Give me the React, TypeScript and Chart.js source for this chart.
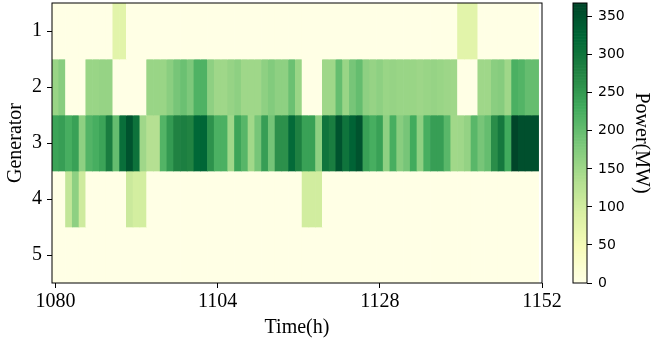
import React, { useEffect, useRef } from "react";
import { Chart, registerables } from "chart.js";
Chart.register(...registerables);

// ---------------- data ----------------
const hours: number[] = Array.from({ length: 72 }, (_, i) => 1080 + i);
const generatorLabels = [1, 2, 3, 4, 5];

const gen1 = [
  0, 0, 0, 0, 0, 0, 0, 0, 0, 78, 78, 0, 0, 0, 0, 0, 0, 0,
  0, 0, 0, 0, 0, 0, 0, 0, 0, 0, 0, 0, 0, 0, 0, 0, 0, 0,
  0, 0, 0, 0, 0, 0, 0, 0, 0, 0, 0, 0, 0, 0, 0, 0, 0, 0,
  0, 0, 0, 0, 0, 0, 78, 78, 78, 0, 0, 0, 0, 0, 0, 0, 0, 0,
];
const gen2 = [
  155, 170, 0, 0, 0, 155, 155, 158, 158, 0, 0, 0, 0, 0, 155, 155, 155, 168,
  185, 195, 180, 218, 218, 165, 150, 150, 158, 165, 150, 150, 150, 165, 175, 165,
  165, 195, 155, 0, 0, 0, 150, 150, 200, 155, 185, 200, 165, 158, 165, 155, 158, 155,
  155, 155, 152, 155, 158, 155, 152, 150, 0, 0, 0, 150, 150, 168, 172, 150, 222, 215, 200, 200,
];
const gen3 = [
  238, 245, 225, 242, 165, 215, 225, 238, 288, 200, 310, 350, 305, 150, 130, 130, 215, 250,
  280, 285, 278, 322, 325, 260, 222, 222, 150, 238, 212, 148, 185, 245, 187, 262,
  262, 318, 282, 242, 242, 165, 302, 288, 350, 302, 328, 350, 242, 225, 242, 165, 225, 170,
  185, 230, 165, 225, 245, 245, 210, 148, 150, 160, 210, 185, 200, 265, 295, 230, 368, 355, 355, 355,
];
const gen4 = [
  0, 0, 116, 165, 104, 0, 0, 0, 0, 0, 0, 108, 98, 98, 0, 0, 0, 0,
  0, 0, 0, 0, 0, 0, 0, 0, 0, 0, 0, 0, 0, 0, 0, 0, 0, 0,
  0, 100, 100, 100, 0, 0, 0, 0, 0, 0, 0, 0, 0, 0, 0, 0, 0, 0,
  0, 0, 0, 0, 0, 0, 0, 0, 0, 0, 0, 0, 0, 0, 0, 0, 0, 0,
];
const gen5 = [
  0, 0, 0, 0, 0, 0, 0, 0, 0, 0, 0, 0, 0, 0, 0, 0, 0, 0,
  0, 0, 0, 0, 0, 0, 0, 0, 0, 0, 0, 0, 0, 0, 0, 0, 0, 0,
  0, 0, 0, 0, 0, 0, 0, 0, 0, 0, 0, 0, 0, 0, 0, 0, 0, 0,
  0, 0, 0, 0, 0, 0, 0, 0, 0, 0, 0, 0, 0, 0, 0, 0, 0, 0,
];

const xTicks = [1080, 1104, 1128, 1152];
const yTicks = [1, 2, 3, 4, 5];
const cbTicks = [0, 50, 100, 150, 200, 250, 300, 350];
const vMax = 368;

// ---------------- styling ----------------
const W = 652;
const H = 343;
const PLOT = { left: 52, right: 542, top: 3, bottom: 283 };
const CBAR = { left: 573, right: 587 };
const SERIF = "'Liberation Serif', 'Times New Roman', serif";
const SANS = "'DejaVu Sans', sans-serif";

const YLGN = [
  [255, 255, 229],
  [247, 252, 185],
  [217, 240, 163],
  [173, 221, 142],
  [120, 198, 121],
  [65, 171, 93],
  [35, 132, 67],
  [0, 104, 55],
  [0, 69, 41],
];

function cmap(v: number): string {
  const t = Math.max(0, Math.min(1, v / vMax)) * (YLGN.length - 1);
  const i = Math.min(Math.floor(t), YLGN.length - 2);
  const f = t - i;
  const a = YLGN[i];
  const b = YLGN[i + 1];
  const c = a.map((x, k) => Math.round(x + (b[k] - x) * f));
  return `rgb(${c[0]},${c[1]},${c[2]})`;
}

const framePlugin = {
  id: "frame",
  afterDraw(chart: any) {
    const { ctx, chartArea: a } = chart;
    ctx.save();
    ctx.strokeStyle = "#000";
    ctx.lineWidth = 1;
    ctx.strokeRect(a.left, a.top, a.right - a.left, a.bottom - a.top);
    ctx.restore();
  },
};

function zeroPad(s: any) {
  s.paddingTop = 0;
  s.paddingBottom = 0;
  s.paddingLeft = 0;
  s.paddingRight = 0;
}

export default function App() {
  const mainRef = useRef<HTMLCanvasElement>(null);
  const cbRef = useRef<HTMLCanvasElement>(null);

  useEffect(() => {
    document.body.style.margin = "0";
    const series = [gen1, gen2, gen3, gen4, gen5];
    const datasets = series.map((vals, g) => ({
      label: `G${generatorLabels[g]}`,
      data: hours.map((h) => ({ x: h, y: [generatorLabels[g] - 0.5, generatorLabels[g] + 0.5] })),
      backgroundColor: vals.map((v) => cmap(v)),
      borderWidth: 0,
      grouped: false,
      barPercentage: 1,
      categoryPercentage: 1,
    }));

    const main = new Chart(mainRef.current!, {
      type: "bar",
      data: { datasets: datasets as any },
      options: {
        responsive: false,
        animation: false,
        layout: { padding: { left: 0, top: PLOT.top, right: W - PLOT.right, bottom: 0 } },
        plugins: { legend: { display: false }, tooltip: { enabled: false } },
        scales: {
          x: {
            type: "linear",
            min: 1079.5,
            max: 1152,
            offset: false,
            afterBuildTicks: (s: any) => {
              s.ticks = xTicks.map((v) => ({ value: v }));
            },
            afterFit: (s: any) => {
              s.height = H - PLOT.bottom;
              zeroPad(s);
            },
            ticks: {
              callback: (v: any) => String(v),
              color: "#000",
              font: { family: SERIF, size: 20 },
              padding: 2,
              maxRotation: 0,
              autoSkip: false,
            },
            grid: { display: true, drawOnChartArea: false, drawTicks: true, tickLength: 5, color: "#000", offset: false },
            border: { display: false },
            title: {
              display: true,
              text: "Time(h)",
              color: "#000",
              font: { family: SERIF, size: 20, lineHeight: 1 },
              padding: { top: 0, bottom: 5 },
            },
          },
          y: {
            type: "linear",
            min: 0.5,
            max: 5.5,
            reverse: true,
            afterBuildTicks: (s: any) => {
              s.ticks = yTicks.map((v) => ({ value: v }));
            },
            afterFit: (s: any) => {
              s.width = PLOT.left;
              zeroPad(s);
            },
            ticks: {
              callback: (v: any) => String(v),
              color: "#000",
              font: { family: SERIF, size: 20 },
              padding: 5,
              autoSkip: false,
            },
            grid: { display: true, drawOnChartArea: false, drawTicks: true, tickLength: 5, color: "#000" },
            border: { display: false },
            title: {
              display: true,
              text: "Generator",
              color: "#000",
              font: { family: SERIF, size: 20, lineHeight: 1 },
              padding: { top: 6, bottom: 0 },
            },
          },
        },
      } as any,
      plugins: [framePlugin],
    });

    const nSteps = 184;
    const step = vMax / nSteps;
    const cbDatasets = Array.from({ length: nSteps }, (_, k) => ({
      data: [[k * step, (k + 1) * step]],
      backgroundColor: cmap((k + 0.5) * step),
      borderWidth: 0,
      grouped: false,
      barPercentage: 1,
      categoryPercentage: 1,
    }));

    const cb = new Chart(cbRef.current!, {
      type: "bar",
      data: { labels: [""], datasets: cbDatasets as any },
      options: {
        responsive: false,
        animation: false,
        layout: { padding: { left: CBAR.left, top: PLOT.top, right: 0, bottom: H - PLOT.bottom } },
        plugins: { legend: { display: false }, tooltip: { enabled: false } },
        scales: {
          x: { type: "category", display: false },
          y: {
            type: "linear",
            position: "right",
            min: 0,
            max: vMax,
            afterBuildTicks: (s: any) => {
              s.ticks = cbTicks.map((v) => ({ value: v }));
            },
            afterFit: (s: any) => {
              s.width = W - CBAR.right;
              zeroPad(s);
            },
            ticks: {
              callback: (v: any) => String(v),
              color: "#000",
              font: { family: SANS, size: 14 },
              padding: 6,
              autoSkip: false,
            },
            grid: { display: true, drawOnChartArea: false, drawTicks: true, tickLength: 5, color: "#000" },
            border: { display: false },
            title: {
              display: true,
              text: "Power(MW)",
              color: "#000",
              font: { family: SERIF, size: 20, lineHeight: 1 },
              padding: { top: 1, bottom: 0 },
            },
          },
        },
      } as any,
      plugins: [framePlugin],
    });

    return () => {
      main.destroy();
      cb.destroy();
    };
  }, []);

  return (
    <div style={{ position: "fixed", left: 0, top: 0, width: W, height: H, background: "#fff" }}>
      <canvas ref={mainRef} width={W} height={H} style={{ position: "absolute", left: 0, top: 0 }} />
      <canvas ref={cbRef} width={W} height={H} style={{ position: "absolute", left: 0, top: 0 }} />
    </div>
  );
}
